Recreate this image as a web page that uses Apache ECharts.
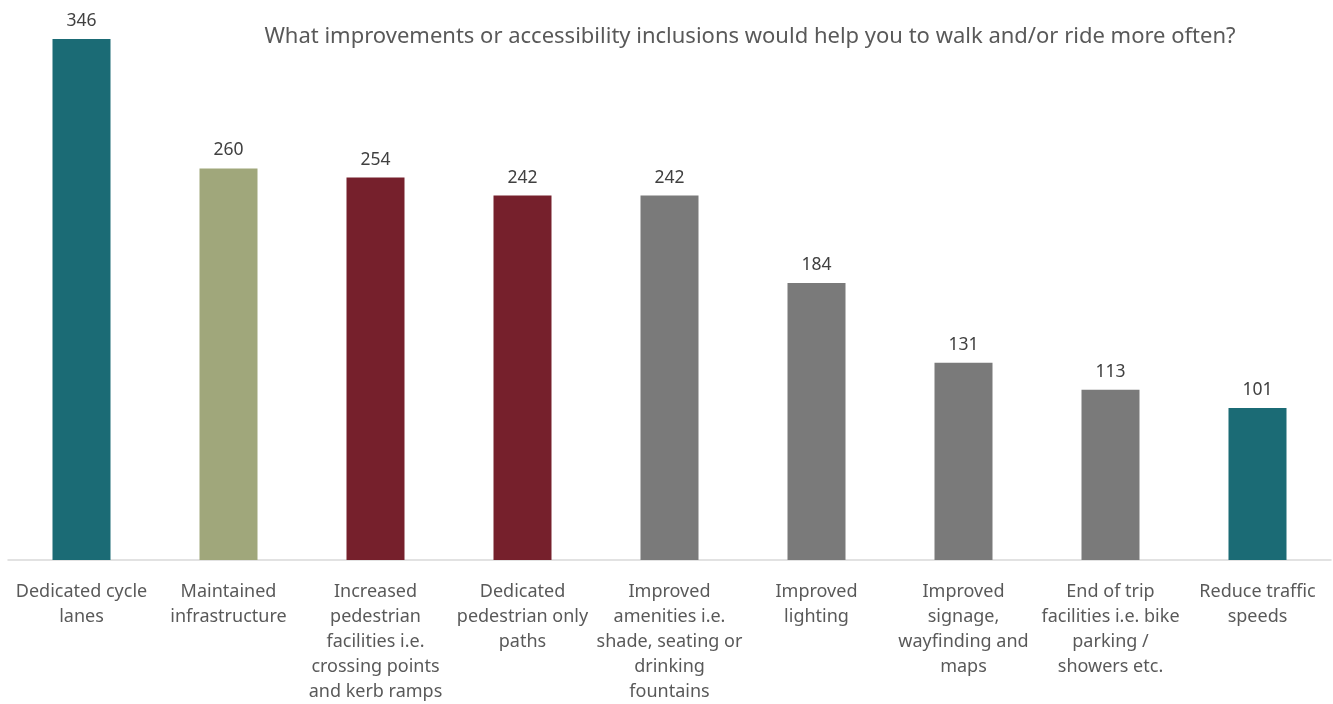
<!DOCTYPE html>
<html>
<head>
<meta charset="utf-8">
<script src="https://cdn.jsdelivr.net/npm/echarts@6/dist/echarts.min.js"></script>
<style>
  html, body { margin: 0; padding: 0; background: #ffffff; }
  #chart { width: 1333px; height: 704px; }
</style>
</head>
<body>
<div id="chart"></div>
<script>
// Survey responses: improvements that would encourage walking / riding
const categories = [
  'Dedicated cycle\nlanes',
  'Maintained\ninfrastructure',
  'Increased\npedestrian\nfacilities i.e.\ncrossing points\nand kerb ramps',
  'Dedicated\npedestrian only\npaths',
  'Improved\namenities i.e.\nshade, seating or\ndrinking\nfountains',
  'Improved\nlighting',
  'Improved\nsignage,\nwayfinding and\nmaps',
  'End of trip\nfacilities i.e. bike\nparking /\nshowers etc.',
  'Reduce traffic\nspeeds'
];
const responses = [346, 260, 254, 242, 242, 184, 131, 113, 101];

// Palette per bar (theme grouping)
const TEAL = '#1b6b75', OLIVE = '#a0a77b', MAROON = '#76202c', GREY = '#7a7a7a';
const barColors = [TEAL, OLIVE, MAROON, MAROON, GREY, GREY, GREY, GREY, TEAL];

const FONT = '"Noto Sans", "Open Sans", sans-serif';

const chart = echarts.init(document.getElementById('chart'), null, { renderer: 'canvas' });
chart.setOption({
  animation: false,
  backgroundColor: '#ffffff',
  title: {
    text: 'What improvements or accessibility inclusions would help you to walk and/or ride more often?',
    left: 745,
    textAlign: 'center',
    top: 21,
    textStyle: { fontFamily: FONT, fontSize: 22, fontWeight: 'normal', color: '#595959' }
  },
  grid: { left: 8, right: 2, top: 33, bottom: 142, containLabel: false },
  xAxis: {
    type: 'category',
    data: categories,
    axisLine: { show: true, lineStyle: { color: '#d9d9d9', width: 1.5 } },
    axisTick: { show: false },
    axisLabel: {
      interval: 0,
      margin: 19,
      fontFamily: FONT,
      fontSize: 18,
      lineHeight: 25,
      color: '#595959',
      align: 'center',
      verticalAlign: 'top'
    }
  },
  yAxis: {
    type: 'value',
    min: 0,
    max: 350,
    show: false,
    splitLine: { show: false }
  },
  series: [{
    type: 'bar',
    barWidth: 58,
    data: responses.map((v, i) => ({ value: v, itemStyle: { color: barColors[i] } })),
    label: {
      show: true,
      position: 'top',
      distance: 9,
      fontFamily: FONT,
      fontSize: 17.5,
      color: '#404040'
    }
  }]
});
</script>
</body>
</html>
